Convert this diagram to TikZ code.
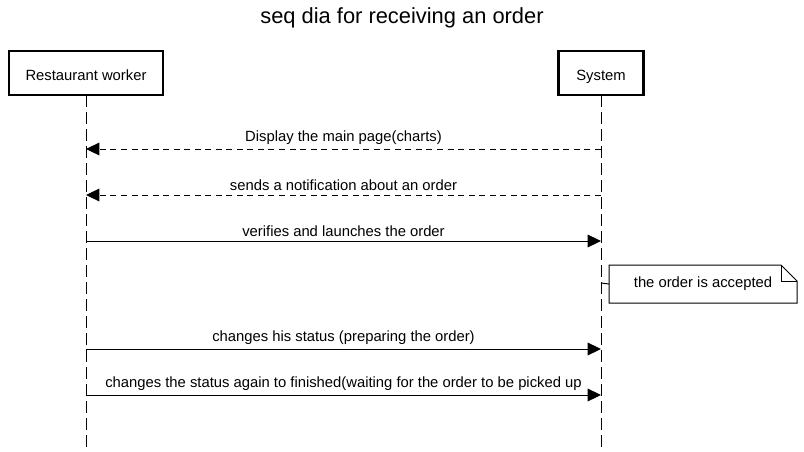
\documentclass[tikz,border=0pt]{standalone}
\usepackage{fontspec}
\setmainfont{Liberation Sans}
\usetikzlibrary{arrows.meta}
\begin{document}
\begin{tikzpicture}[x=0.75pt,y=-0.75pt,inner sep=0pt,outer sep=0pt,
	actor/.style={draw,rectangle,line width=2pt,minimum height=33pt,text height=11.5pt,text depth=0pt,font=\fontsize{11.1}{13}\selectfont},
	lifeline/.style={line width=0.75pt,dash pattern=on 9pt off 3.75pt},
	msg/.style={line width=0.75pt,-{Triangle[length=10pt,width=9.5pt]}},
	reply/.style={msg,dash pattern=on 4.5pt off 3.4pt},
	lbl/.style={font=\fontsize{11.1}{13}\selectfont}]
	\useasboundingbox (0,0) rectangle (804,451);
	\node[font=\fontsize{16.4}{19}\selectfont] (title) at (402,18) {seq dia for receiving an order};
	% actors and lifelines
	\draw (86,73) node[actor,minimum width=115.5pt] (worker) {Restaurant worker};
	\draw (601,73) node[actor,minimum width=64pt] (sys) {System};
	\draw[lifeline] (worker.south) -- (86,451) coordinate (workerend);
	\draw[lifeline] (sys.south) -- (601,451) coordinate (sysend);
	% points on the lifelines
	\foreach \n/\y in {1/149,2/195,3/241,4/349,5/395}{
		\coordinate (w\n) at (worker |- 0,\y);
		\coordinate (s\n) at (sys |- 0,\y);
	}
	\coordinate (s0) at (sys |- 0,283);
	% messages
	\draw[reply] (s1) -- node[lbl,above=3.5pt] {Display the main page(charts)} (w1);
	\draw[reply] (s2) -- node[lbl,above=3.5pt] {sends a notification about an order} (w2);
	\draw[msg] (w3) -- node[lbl,above=3.5pt] {verifies and launches the order} (s3);
	\draw[msg] (w4) -- node[lbl,above=3.5pt] {changes his status (preparing the order)} (s4);
	\draw[msg] (w5) -- node[lbl,above=3.5pt] {changes the status again to finished(waiting for the order to be picked up} (s5);
	% note
	\node[lbl,minimum width=141pt,minimum height=28.5pt] (note) at (703,284) {the order is accepted};
	\draw[line width=0.75pt] (note.north west) -- ([xshift=-12pt]note.north east) -- ([yshift=-12pt]note.north east)
		-- (note.south east) -- (note.south west) -- cycle;
	\draw[line width=0.75pt] ([xshift=-12pt]note.north east) -- ([xshift=-12pt,yshift=-12pt]note.north east) -- ([yshift=-12pt]note.north east);
	\draw[line width=0.75pt] (s0) -- (note.west);
\end{tikzpicture}
\end{document}
